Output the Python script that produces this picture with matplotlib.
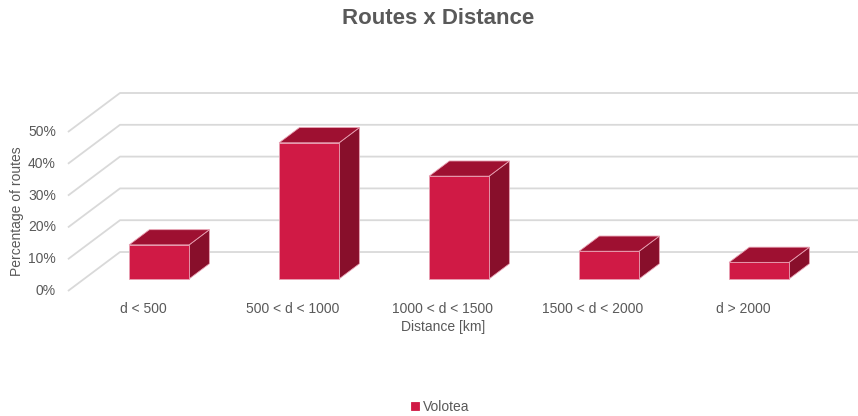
import matplotlib
matplotlib.use('Agg')
import matplotlib.pyplot as plt
from matplotlib.patches import Polygon

plt.rcParams['font.family'] = ['Liberation Sans', 'DejaVu Sans']

# ---------- Data ----------
categories = ['d < 500', '500 < d < 1000', '1000 < d < 1500', '1500 < d < 2000', 'd > 2000']
shares = [10.7, 42.8, 32.3, 8.7, 5.2]          # percentage of routes
y_ticks = [0, 10, 20, 30, 40, 50]
series_name = 'Volotea'

TEXT = '#595959'
GRID = '#d9d9d9'
FRONT = '#d01a45'
TOP = '#9e1031'
SIDE = '#880f2b'

# oblique projection: full depth shifts by DX categories and DY percent
DX = 0.347
DY = 12.26
BAR_HALF = 0.2
D0, D1 = 0.31, 0.70


def proj(x, v, d):
    return (x + d * DX, v + d * DY)


fig = plt.figure(figsize=(8.58, 4.16), dpi=100)
ax = fig.add_axes([0, 0, 1, 1])
ax.set_xlim(-0.953, 4.767)
ax.set_ylim(-39.3, 91.5)
ax.axis('off')

# ---------- walls / gridlines ----------
left = -0.5
right = len(categories) - 0.5
for v in y_ticks:
    p0 = proj(left, v, 0)
    p1 = proj(left, v, 1)
    p2 = proj(right + 0.2, v, 1)
    ax.plot([p0[0], p1[0], p2[0]], [p0[1], p1[1], p2[1]],
            color=GRID, lw=1.3, solid_capstyle='butt', zorder=1)
    ax.text(-0.58, v, f'{v}%', ha='right', va='center', fontsize=10, color=TEXT)

# ---------- 3D bars ----------
for i, v in enumerate(shares):
    x0, x1 = i - BAR_HALF, i + BAR_HALF
    front = [proj(x0, 0, D0), proj(x1, 0, D0), proj(x1, v, D0), proj(x0, v, D0)]
    top = [proj(x0, v, D0), proj(x1, v, D0), proj(x1, v, D1), proj(x0, v, D1)]
    side = [proj(x1, 0, D0), proj(x1, 0, D1), proj(x1, v, D1), proj(x1, v, D0)]
    for pts, col in ((side, SIDE), (top, TOP), (front, FRONT)):
        ax.add_patch(Polygon(pts, closed=True, facecolor=col,
                             edgecolor='#e8a0b2', lw=0.6, zorder=3,
                             label=series_name if (i == 0 and col == FRONT) else None))
    ax.text(i, -5.7, categories[i], ha='center', va='center', fontsize=10, color=TEXT)

# ---------- labels ----------
ax.text(2.0, -11.3, 'Distance [km]', ha='center', va='center', fontsize=10, color=TEXT)
ax.text(-0.84, 25.2, 'Percentage of routes', ha='center', va='center',
        rotation=90, fontsize=10, color=TEXT)
ax.text(1.967, 85.6, 'Routes x Distance', ha='center', va='center',
        fontsize=16, fontweight='bold', color=TEXT)

leg = ax.legend(loc='center', bbox_to_anchor=(0.513, 1 - 407 / 416),
                bbox_transform=fig.transFigure, frameon=False, fontsize=10,
                handlelength=0.55, handleheight=0.55, handletextpad=0.3)
for t in leg.get_texts():
    t.set_color(TEXT)
for h in leg.legend_handles:
    h.set_edgecolor(FRONT)

fig.savefig('out.png', dpi=100)
